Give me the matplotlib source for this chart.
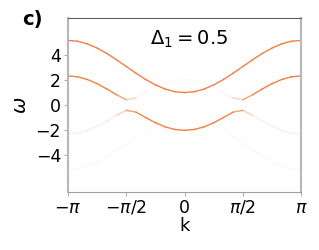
import numpy as np
import matplotlib

matplotlib.use("Agg")
import matplotlib.pyplot as plt
from matplotlib.collections import LineCollection

# band energies at k = n*pi/12, n = 0..12 (k >= 0 half, mirrored)
band1 = [1.00, 1.07, 1.28, 1.62, 2.05, 2.56, 3.10, 3.64, 4.15, 4.58, 4.92, 5.13, 5.20]
band1_hole = [-1.00, -1.07, -1.28, -1.62, -2.05, -2.56, -3.10, -3.64, -4.15, -4.58, -4.92, -5.13, -5.20]
band2_up = [2.04, 1.97, 1.76, 1.43, 1.01, 0.57, 0.43, 0.82, 1.29, 1.72, 2.05, 2.27, 2.34]
band2_dn = [-2.04, -1.97, -1.76, -1.43, -1.01, -0.57, -0.43, -0.82, -1.29, -1.72, -2.05, -2.27, -2.34]

# spectral weight (line opacity) along each band
w_band1 = [0.85] * 13
w_band1_hole = [0.01, 0.01, 0.015, 0.02, 0.03, 0.04, 0.05, 0.05, 0.05, 0.05, 0.05, 0.05, 0.05]
w_band2_up = [0.03, 0.03, 0.03, 0.04, 0.05, 0.12, 0.45, 0.8, 0.85, 0.85, 0.85, 0.85, 0.85]
w_band2_dn = [0.85, 0.85, 0.85, 0.85, 0.85, 0.8, 0.45, 0.15, 0.1, 0.1, 0.1, 0.1, 0.1]

xticks = [-np.pi, -np.pi / 2, 0, np.pi / 2, np.pi]
xticklabels = [r"$-\pi$", r"$-\pi/2$", "0", r"$\pi/2$", r"$\pi$"]
yticks = [-4, -2, 0, 2, 4]

k_half = np.linspace(0, np.pi, 13)
k = np.r_[-k_half[:0:-1], k_half]


def mirror(v):
    v = np.asarray(v, dtype=float)
    return np.r_[v[:0:-1], v]


fig = plt.figure(figsize=(3.19, 2.5), dpi=100)
ax = fig.add_axes([0.213, 0.232, 0.731, 0.696])
base = np.array(matplotlib.colors.to_rgb("#f26a21"))

for e, w in [(band1_hole, w_band1_hole), (band2_up, w_band2_up),
             (band2_dn, w_band2_dn), (band1, w_band1)]:
    y = mirror(e)
    ww = mirror(w)
    pts = np.column_stack([k, y]).reshape(-1, 1, 2)
    segs = np.concatenate([pts[:-1], pts[1:]], axis=1)
    a = 0.5 * (ww[:-1] + ww[1:])
    cols = np.column_stack([np.tile(base, (len(a), 1)), a])
    ax.add_collection(LineCollection(segs, colors=cols, linewidths=1.0, capstyle="round"))

ax.set_xlim(-np.pi, np.pi)
ax.set_ylim(-7, 7)
ax.set_xticks(xticks)
ax.set_xticklabels(xticklabels)
ax.set_yticks(yticks)
ax.tick_params(labelsize=12.5, length=3, color="#b0b0b0", pad=2)
ax.set_xlabel("k", fontsize=13, labelpad=0)
ax.set_ylabel(r"$\omega$", fontsize=14, labelpad=4)

for side in ["left", "right"]:
    ax.spines[side].set_color("#b8b8b8")
    ax.spines[side].set_linewidth(1.5)
ax.spines["bottom"].set_color("#a0a0a0")
ax.spines["top"].set_color("#606060")
ax.spines["top"].set_linewidth(0.8)

ax.text(0.52, 0.875, r"$\Delta_1 = 0.5$", transform=ax.transAxes, fontsize=14,
        ha="center", va="center")
fig.text(0.068, 0.92, "c)", fontsize=14, fontweight="bold", ha="left", va="center")

fig.savefig("out.png", dpi=100)
